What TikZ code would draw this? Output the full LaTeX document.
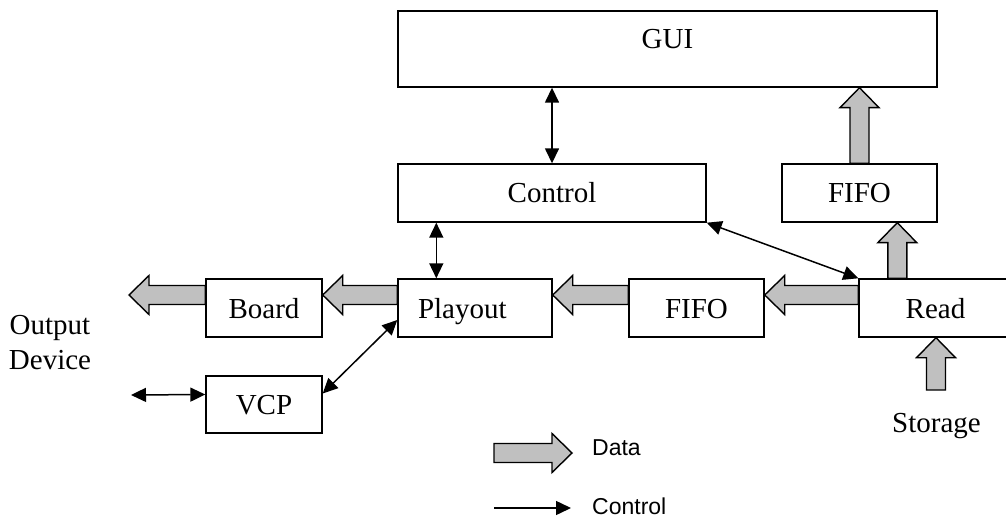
\documentclass[tikz,border=0pt]{standalone}
\usepackage{fontspec}
\setmainfont{Liberation Serif}
\newfontfamily\legendfont{Liberation Sans}
\usetikzlibrary{arrows.meta,calc}

\definecolor{datagray}{RGB}{192,192,192}

\tikzset{
  box/.style={draw, line width=1.4pt, rectangle, inner sep=0pt,
    font=\fontsize{29}{35}\selectfont, text height=20pt, text depth=0pt,
    minimum height=58pt},
  ctrl/.style={line width=1.5pt,
    {Triangle[length=15pt,width=14pt]}-{Triangle[length=15pt,width=14pt]}},
  ctrlone/.style={line width=1.5pt, -{Triangle[length=15pt,width=14pt]}},
  dataflow/.style={draw, fill=datagray, line width=1.4pt, line join=miter},
  plain/.style={font=\fontsize{29}{35}\selectfont},
  legendtext/.style={font=\legendfont\fontsize{23}{27}\selectfont, anchor=base west, inner sep=0pt},
}

% broad data-flow arrow from #1 (tail) to #2 (tip)
\newcommand\flowarrow[2]{%
  \coordinate (fa-h) at ($(#2)!20pt!(#1)$);
  \filldraw[dataflow]
    ($(#1)!9.5pt!90:(#2)$) -- ($(fa-h)!9.5pt!90:(#2)$) -- ($(fa-h)!19.5pt!90:(#2)$)
    -- (#2)
    -- ($(fa-h)!19.5pt!-90:(#2)$) -- ($(fa-h)!9.5pt!-90:(#2)$) -- ($(#1)!9.5pt!-90:(#2)$)
    -- cycle;
}

\begin{document}
\begin{tikzpicture}[x=1pt,y=-1pt]
\useasboundingbox (0,0) rectangle (1006,521);
\clip (0,0) rectangle (1006,521);

% blocks
\node[box, minimum width=539pt, minimum height=76pt, text depth=20pt] (gui) at (667.5,49) {GUI};
\node[box, minimum width=308pt] (control) at (552,193) {Control};
\node[box, minimum width=155pt] (fifo2) at (859.5,193) {FIFO};
\node[box, minimum width=116pt] (board) at (264,308) {Board};
\node[box, text width=114pt, inner xsep=20pt, align=left] (playout) at (475,308) {Playout};
\node[box, minimum width=135pt] (fifo1) at (696.5,308) {FIFO};
\node[box, minimum width=153pt] (read) at (935.5,308) {Read};
\node[box, minimum width=116pt, minimum height=57pt] (vcp) at (264,404.5) {VCP};

% free texts
\node[plain, align=center, inner sep=0pt] (outdev) at (50,343) {Output\\Device};
\node[plain, anchor=base, inner sep=0pt] (storagetext) at (936.5,432) {Storage};

% free ends
\coordinate (boardout) at (129,295);
\coordinate (vcpout) at (131,395);
\coordinate (storage) at (936,390);
\coordinate (rdup) at ($(read.north west)+(39,0)$);

% data flow
\flowarrow{$(board.west)+(0,-13)$}{boardout}
\flowarrow{$(playout.west)+(0,-13)$}{$(board.east)+(0,-13)$}
\flowarrow{$(fifo1.west)+(0,-13)$}{$(playout.east)+(0,-13)$}
\flowarrow{$(read.west)+(0,-13)$}{$(fifo1.east)+(0,-13)$}
\flowarrow{rdup}{rdup |- fifo2.south}
\flowarrow{fifo2.north}{fifo2.north |- gui.south}
\flowarrow{storage}{storage |- read.south}

% control flow
\draw[ctrl] (control.north) -- (control.north |- gui.south);
\draw[ctrl] ($(playout.north west)+(39,0)$) -- ($(control.south west)+(39,0)$);
\draw[ctrl] (control.south east) -- (read.north west);
\draw[ctrl] ($(playout.west)+(0,12)$) -- ($(vcp.east)+(0,-11)$);
\draw[ctrl] ($(vcp.west)+(0,-10)$) -- (vcpout);

% legend
\coordinate (legd1) at (494,453);
\coordinate (legd2) at (572,453);
\flowarrow{legd1}{legd2}
\node[legendtext] (datatext) at (592,455) {Data};
\coordinate (legc1) at (494,508);
\coordinate (legc2) at (571,508);
\draw[ctrlone] (legc1) -- (legc2);
\node[legendtext] (ctrltext) at (592,514) {Control};
\end{tikzpicture}
\end{document}
